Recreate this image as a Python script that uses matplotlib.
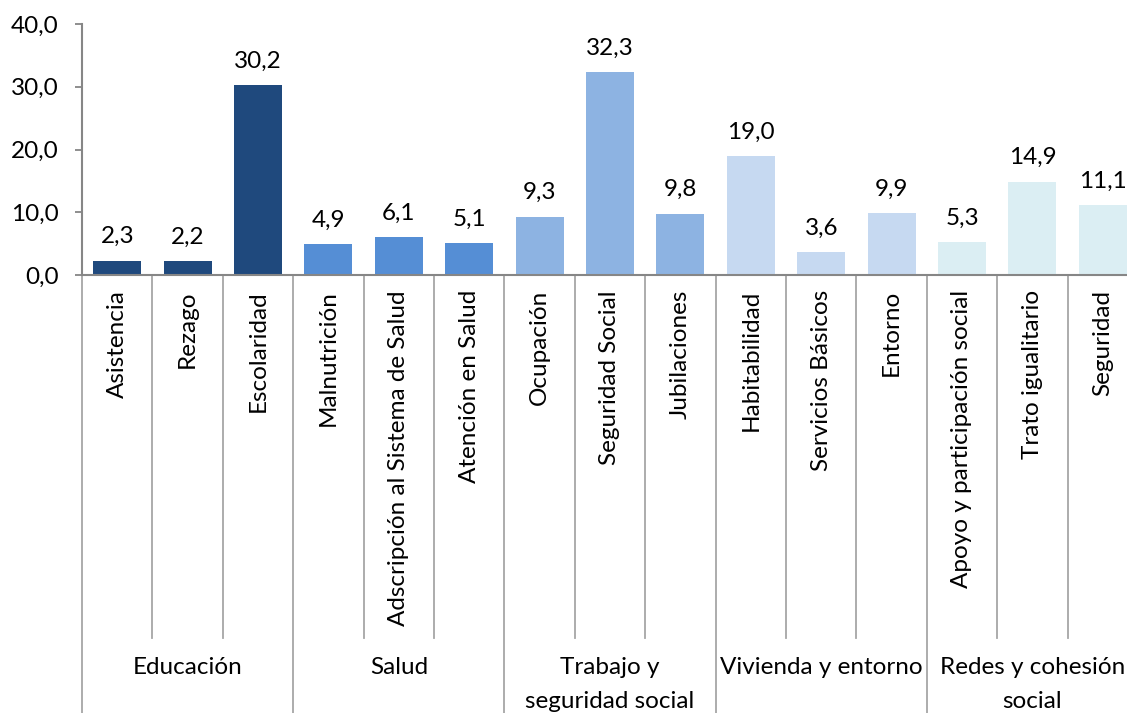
import matplotlib
matplotlib.use("Agg")
import matplotlib.pyplot as plt
from matplotlib.transforms import blended_transform_factory

plt.rcParams['font.family'] = ['Lato', 'DejaVu Sans']

# Indicator data grouped by dimension
groups = ["Educación", "Salud", "Trabajo y\nseguridad social",
          "Vivienda y entorno", "Redes y cohesión\nsocial"]
categories = ["Asistencia", "Rezago", "Escolaridad",
              "Malnutrición", "Adscripción al Sistema de Salud", "Atención en Salud",
              "Ocupación", "Seguridad Social", "Jubilaciones",
              "Habitabilidad", "Servicios Básicos", "Entorno",
              "Apoyo y participación social", "Trato igualitario", "Seguridad"]
values = [2.3, 2.2, 30.2,
          4.9, 6.1, 5.1,
          9.3, 32.3, 9.8,
          19.0, 3.6, 9.9,
          5.3, 14.9, 11.1]
group_colors = ["#1F497D", "#558ED5", "#8DB3E2", "#C6D9F1", "#DBEEF3"]
group_size = 3

FS = 17.5
W, H = 1127, 713
fig = plt.figure(figsize=(W / 100, H / 100), dpi=100)
ax_left, ax_right, ax_top, ax_bottom = 82, 1138, 24, 275
ax = fig.add_axes([ax_left / W, 1 - ax_bottom / H,
                   (ax_right - ax_left) / W, (ax_bottom - ax_top) / H])

n = len(categories)
xs = list(range(n))
colors = [group_colors[i // group_size] for i in range(n)]
ax.bar(xs, values, width=0.68, color=colors, zorder=2)

ax.set_xlim(-0.5, n - 0.5)
ax.set_ylim(0, 40)
yticks = [0, 10, 20, 30, 40]
ax.set_yticks(yticks)
ax.set_yticklabels([f"{v:.1f}".replace(".", ",") for v in yticks])
ax.tick_params(axis='y', length=5, width=1.3, color="#868686", labelsize=FS,
               pad=12, labelcolor="black")
ax.set_xticks([])

for s in ["top", "right"]:
    ax.spines[s].set_visible(False)
for s in ["left", "bottom"]:
    ax.spines[s].set_color("#868686")
    ax.spines[s].set_linewidth(1.5)
    ax.spines[s].set_zorder(3)

# Value labels above each bar
for x, v in zip(xs, values):
    ax.annotate(f"{v:.1f}".replace(".", ","), (x, v), xytext=(0, 12.5),
                textcoords="offset points", ha="center", va="baseline",
                fontsize=FS, color="black")

# Multi-level category axis beneath the plot
px_per_ax = ax_bottom - ax_top
trans = blended_transform_factory(ax.transData, ax.transAxes)
small_bottom = -(638 - ax_bottom) / px_per_ax
group_bottom = -(H - ax_bottom + 5) / px_per_ax
sep_color = "#A6A6A6"
for b in range(n + 1):
    xb = b - 0.5
    y1 = group_bottom if b % group_size == 0 else small_bottom
    ax.plot([xb, xb], [0, y1], transform=trans, color=sep_color, lw=1.3,
            clip_on=False, zorder=1)

label_top = -(290 - ax_bottom) / px_per_ax
for x, c in zip(xs, categories):
    ax.text(x, label_top, c, transform=trans, rotation=90, ha="center",
            va="top", fontsize=FS, color="black")

group_top = -(657 - ax_bottom) / px_per_ax
for g, name in enumerate(groups):
    xc = g * group_size + (group_size - 1) / 2
    ax.text(xc, group_top, name, transform=trans, ha="center", va="top",
            fontsize=FS, color="black", linespacing=1.75)

fig.savefig("out.png", dpi=100)
